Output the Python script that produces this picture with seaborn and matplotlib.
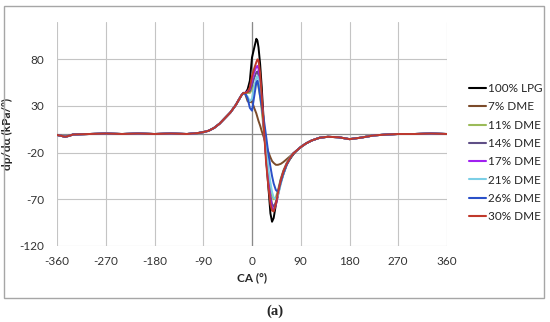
import numpy as np
import pandas as pd
import matplotlib
matplotlib.use('Agg')
import matplotlib.pyplot as plt
import seaborn as sns
from matplotlib.patches import Rectangle

# shared part of the trace before combustion (all fuels overlap here)
ca_pre = [-360, -352, -345, -338, -330, -300, -270, -240, -210, -180, -150, -120,
          -100, -90, -80, -70, -60, -50, -40, -30, -25, -20, -16]
dp_pre = [-1, -2, -3, -2, -0.5, 0, 0.5, 0, 0.5, 0, 0.5, 0,
          1, 2, 3.5, 6.5, 11, 17, 23, 31, 36, 41, 44]

# combustion window, one list per fuel
ca_comb = [-12, -8, -4, 0, 4, 8, 10, 12, 15, 18, 22, 26, 30, 34, 37, 40, 44, 48, 53, 58, 64, 70, 76]
lpg100 = [44, 48, 57, 82, 92, 102, 100, 93, 75, 50, 10, -25, -55, -85, -94, -90, -76, -65, -52, -43, -33, -27, -22]
dme7 = [42, 35, 34, 35, 28, 22, 18, 14, 9, 3, -4, -12, -19, -25, -29, -31, -33, -33, -32, -30, -27, -24, -21]
dme11 = [44, 44, 44, 48, 52, 56, 55, 50, 40, 25, 2, -22, -42, -58, -66, -70, -68, -60, -48, -39, -31, -25, -21]
dme14 = [44, 45, 46, 52, 60, 66, 67, 63, 52, 33, 5, -25, -48, -66, -75, -78, -73, -62, -49, -40, -32, -26, -21]
dme17 = [44, 46, 48, 58, 66, 72, 73, 70, 58, 38, 8, -25, -50, -70, -79, -82, -76, -65, -51, -41, -32, -26, -21]
dme21 = [43, 40, 35, 38, 50, 60, 62, 58, 47, 32, 10, -15, -35, -52, -62, -68, -70, -66, -54, -43, -33, -26, -21]
dme26 = [43, 38, 28, 25, 40, 55, 57, 52, 40, 29, 15, -2, -20, -35, -45, -53, -60, -62, -52, -42, -33, -26, -21]
dme30 = [44, 45, 50, 62, 70, 77, 80, 79, 65, 40, 5, -30, -55, -75, -82, -83, -75, -63, -50, -40, -32, -26, -21]

# shared tail after combustion
ca_post = [82, 90, 100, 110, 125, 140, 160, 180, 200, 225, 250, 270, 300, 330, 360]
dp_post = [-18, -14, -10, -7, -4, -3, -3.5, -5.5, -4, -1.5, -0.5, 0, 0, 0.5, 0]

fuels = ['100% LPG', '7% DME', '11% DME', '14% DME', '17% DME', '21% DME', '26% DME', '30% DME']
comb = [lpg100, dme7, dme11, dme14, dme17, dme21, dme26, dme30]
colors = ['#000000', '#7b4b2a', '#9bbb59', '#5f4f86', '#a020f0', '#7ccfe6', '#2a50c8', '#c0392b']

rows = []
for name, vals in zip(fuels, comb):
    xs = ca_pre + ca_comb + ca_post
    ys = dp_pre + vals + dp_post
    for x, y in zip(xs, ys):
        rows.append({'CA': x, 'dp': y, 'fuel': name})
df = pd.DataFrame(rows)

sns.set_style('white')
plt.rcParams['font.family'] = ['Lato', 'DejaVu Sans']
plt.rcParams['axes.unicode_minus'] = False

fig = plt.figure(figsize=(5.5, 3.22), dpi=100)
ax = fig.add_axes([57 / 550, 1 - 246 / 322, 390 / 550, 224 / 322])

sns.lineplot(data=df, x='CA', y='dp', hue='fuel', palette=colors, hue_order=fuels,
             estimator=None, sort=False, linewidth=1.4, ax=ax)

ax.set_xlim(-360, 360)
ax.set_ylim(-120, 120)
ax.set_xticks(np.arange(-360, 361, 90))
ax.set_yticks([-120, -70, -20, 30, 80])
ax.grid(True, color='#c4c4c4', linewidth=0.8)
ax.axhline(0, color='#8a8a8a', linewidth=0.9, zorder=1)
ax.axvline(0, color='#8a8a8a', linewidth=0.9, zorder=1)
for s in ax.spines.values():
    s.set_visible(False)
ax.tick_params(length=0, labelsize=8.5, colors='#333333')
ax.tick_params(axis='y', pad=9)
ax.tick_params(axis='x', pad=7)

ax.set_xlabel('CA (°)', fontsize=8.5, fontweight='bold', labelpad=4)
ax.set_ylabel('dp/dα (kPa/°)', fontsize=8.5, fontweight='bold')
ax.yaxis.set_label_coords(-0.112, 0.5)

leg = ax.legend(loc='center left', bbox_to_anchor=(0.853, 0.526), bbox_transform=fig.transFigure,
                frameon=False, fontsize=8.5, handlelength=1.45, handletextpad=0.15,
                labelspacing=0.62, borderpad=0, borderaxespad=0)
for h in leg.get_lines():
    h.set_linewidth(1.5)

fig.patches.append(Rectangle((4 / 550, 1 - 298 / 322), 540 / 550, 292 / 322,
                             transform=fig.transFigure, fill=False,
                             edgecolor='#a6a6a6', linewidth=1.0))
fig.text(275 / 550, 1 - 311 / 322, '(a)', ha='center', va='center', fontsize=10.5,
         fontweight='bold', family=['Liberation Serif', 'DejaVu Serif'])

fig.savefig('out.png', dpi=100)
